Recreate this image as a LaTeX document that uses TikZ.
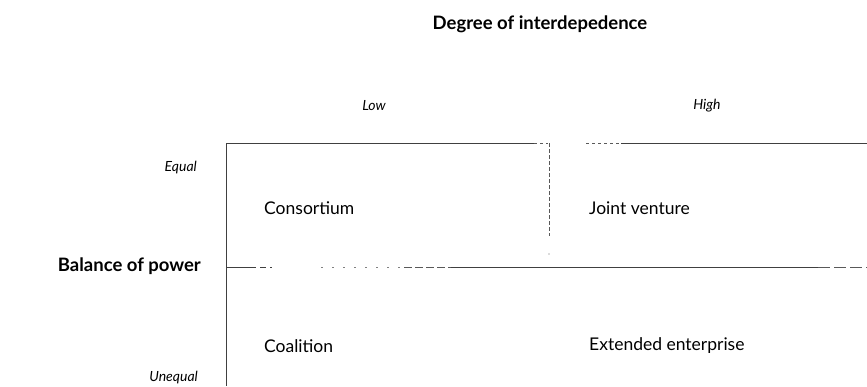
\documentclass[tikz,border=0pt]{standalone}
\usepackage{fontspec}
\setmainfont{Lato}
\begin{document}
\begin{tikzpicture}[x=1pt,y=-1pt,
  lbl/.style={font=\fontsize{17.5}{19}\selectfont, inner sep=0pt},
  ital/.style={font=\fontsize{14}{16}\selectfont\itshape, inner sep=0pt},
  ttl/.style={font=\fontsize{18.5}{20}\selectfont\bfseries, inner sep=0pt},
  frame/.style={line width=1pt, black!75},
  faint/.style={line width=0.9pt, black!65, dash pattern=on 3pt off 3pt}]
\useasboundingbox (0,0) rectangle (867,386);
% texts
\node[ttl] (title) at (540,24) {Degree of interdepedence};
\node[ital] (low) at (374,106) {Low};
\node[ital] (high) at (707,106) {High};
\node[ital, anchor=east] (equal) at (197,168) {Equal};
\node[ttl, anchor=east] (bop) at (201,266) {Balance of power};
\node[ital, anchor=east] (unequal) at (198,378) {Unequal};
\node[lbl, anchor=west] (cons) at (264,208) {Consortium};
\node[lbl, anchor=west] (jv) at (589,208) {Joint venture};
\node[lbl, anchor=west] (coal) at (264,346) {Coalition};
\node[lbl, anchor=west] (ext) at (589,346) {Extended enterprise};
% frame coordinates
\coordinate (tl) at (226,143);
\coordinate (tm) at (534,143);
\coordinate (tm2) at (548,143);
\coordinate (tr0) at (586,143);
\coordinate (tr1) at (621,143);
\coordinate (tr) at (867,143);
\coordinate (bl) at (226,386);
\coordinate (ml) at (226,267);
\coordinate (m1) at (272,267);
\coordinate (m2) at (321,267);
\coordinate (m3) at (404,267);
\coordinate (m4) at (451,267);
\coordinate (m5) at (818,267);
\coordinate (mr) at (867,267);
\coordinate (vt) at (549,143);
\coordinate (vb) at (549,236);
\coordinate (vd) at (549,254);
% lines
\draw[frame] (tl) -- (bl);
\draw[frame] (tl) -- (tm);
\draw[faint] (tm) -- (tm2);
\draw[faint] (tr0) -- (tr1);
\draw[frame] (tr1) -- (tr);
\draw[faint, dash pattern=on 4pt off 2pt] (vt) -- (vb);
\fill[black!60] (vd) circle (0.6pt);
\draw[frame, dash pattern=on 30pt off 4pt on 6pt off 4pt] (ml) -- (m1);
\draw[faint, black!50, dash pattern=on 2pt off 9pt] (m2) -- (m3);
\draw[faint, dash pattern=on 8pt off 3pt] (m3) -- (m4);
\draw[frame] (m4) -- (m5);
\draw[faint, dash pattern=on 12pt off 4pt] (m5) -- (mr);
\end{tikzpicture}
\end{document}
